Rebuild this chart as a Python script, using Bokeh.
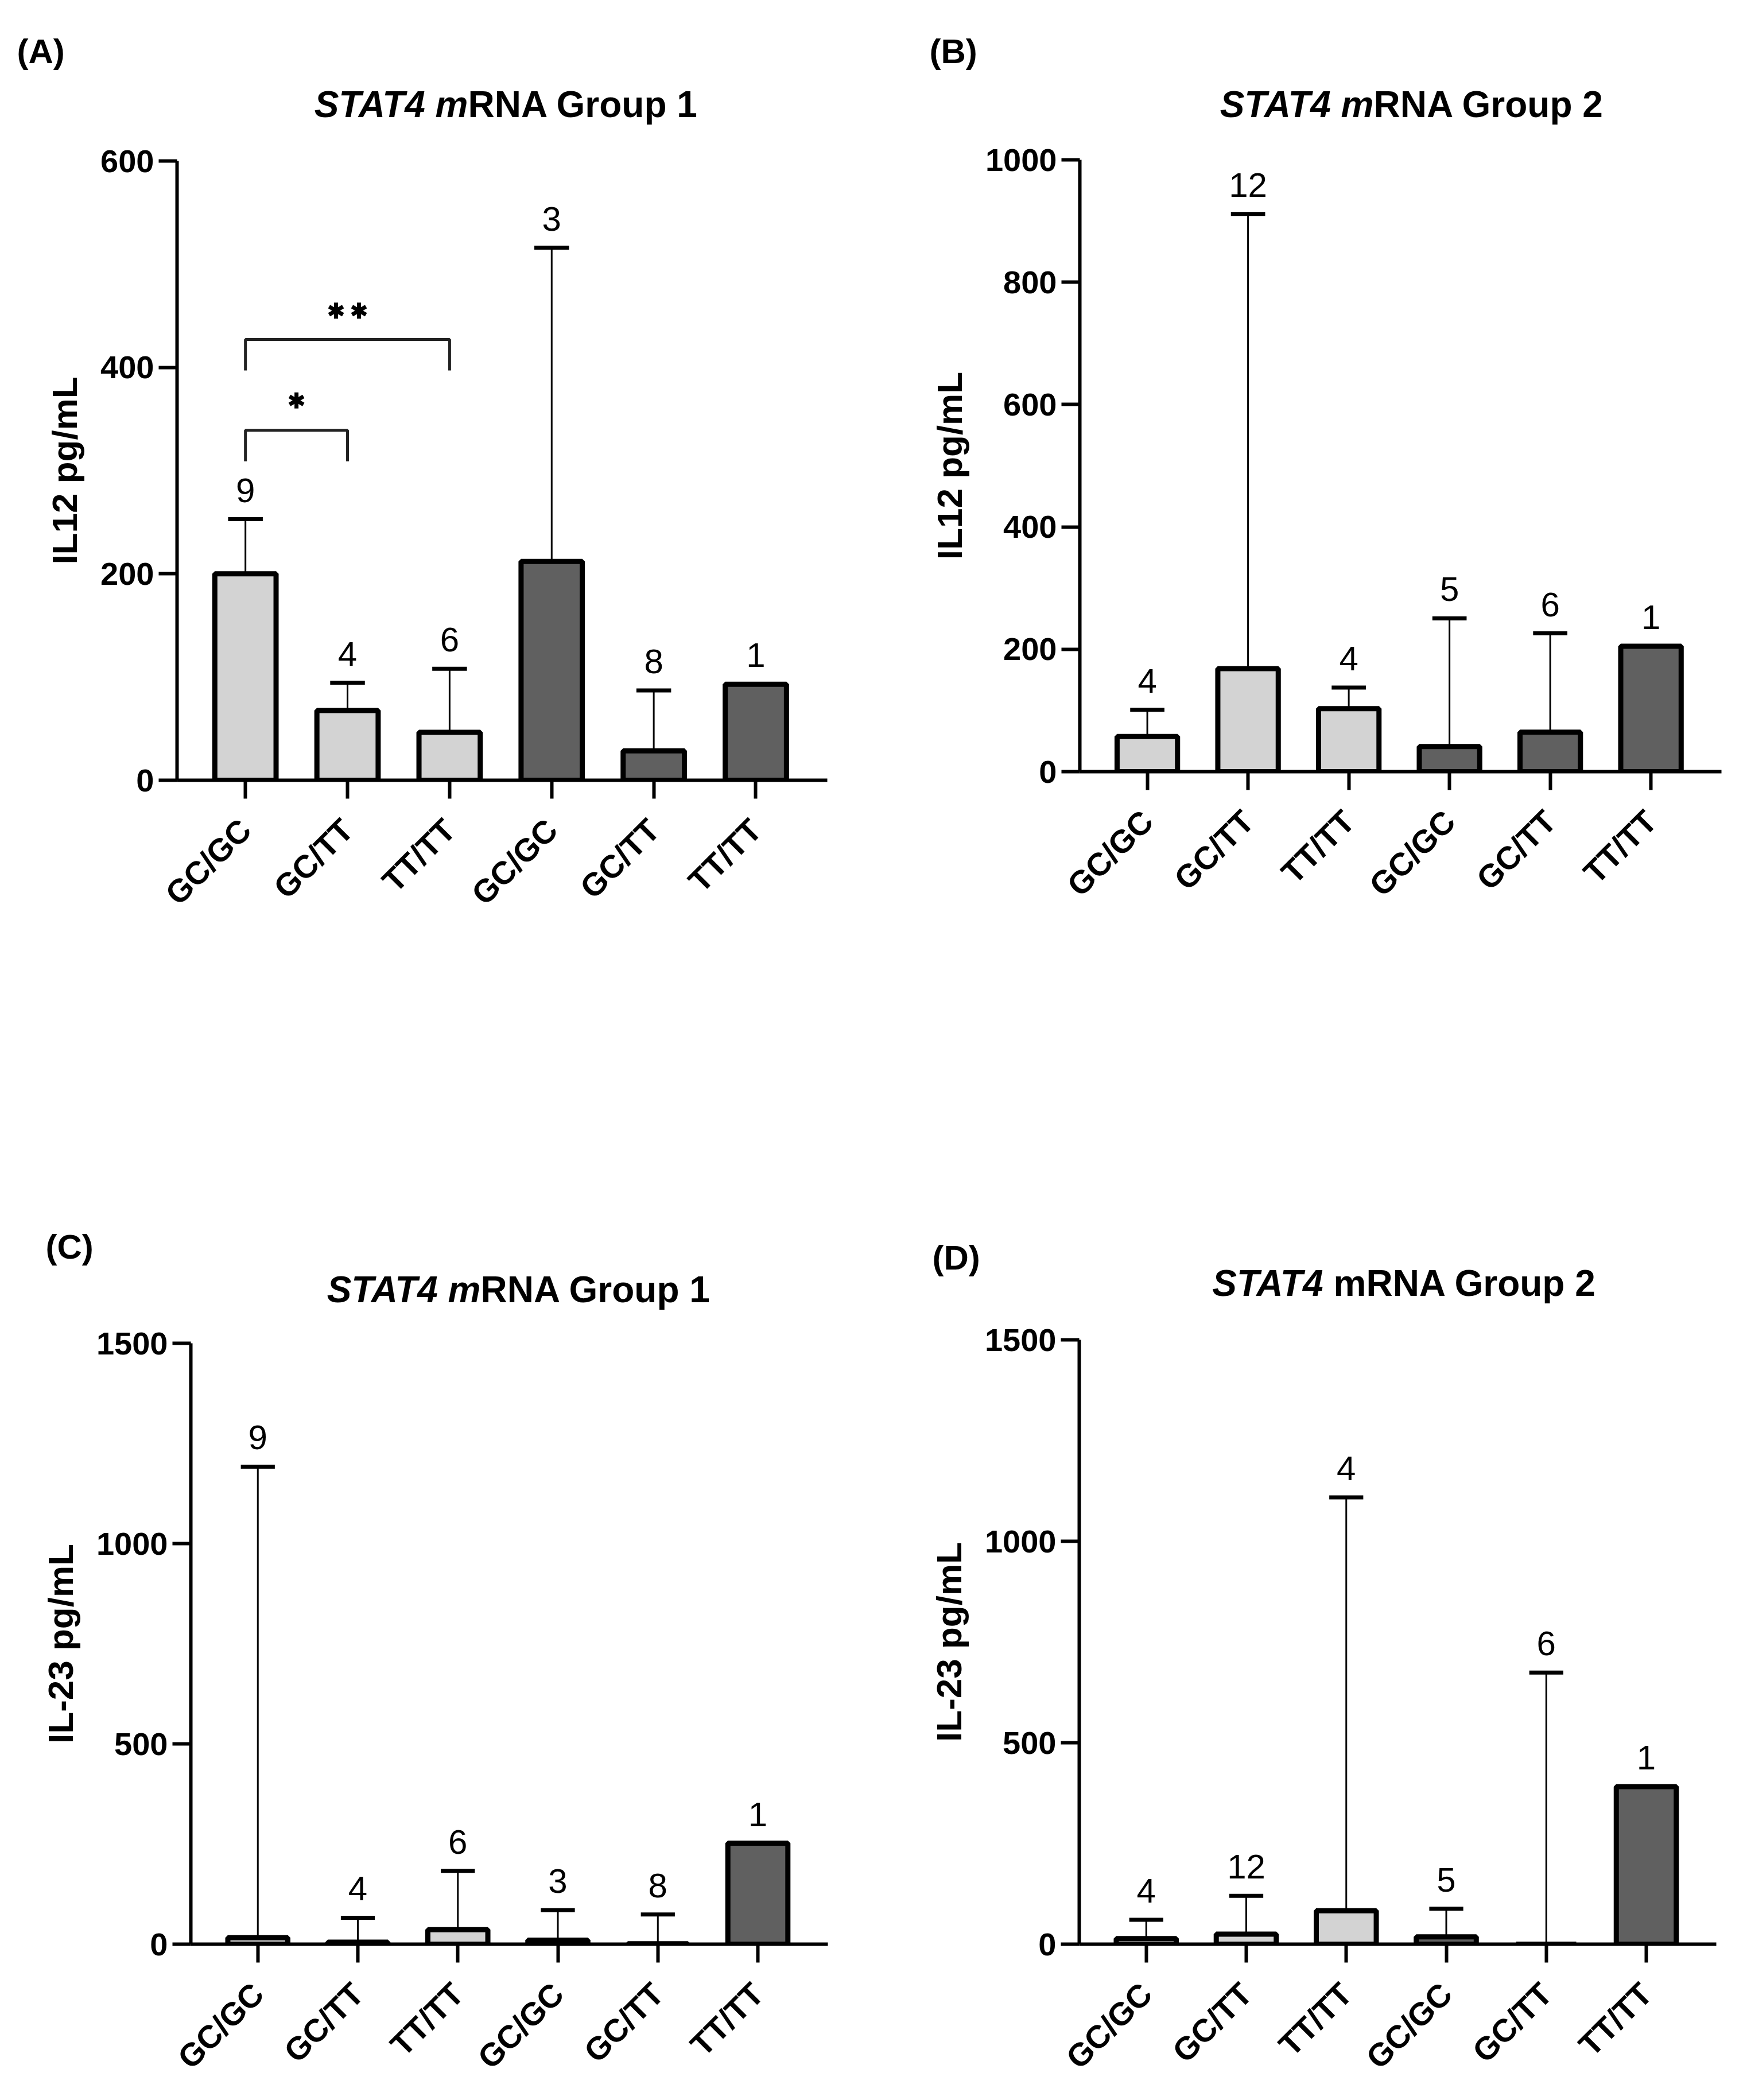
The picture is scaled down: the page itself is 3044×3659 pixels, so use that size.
import math
import numpy as np
from bokeh.plotting import figure
from bokeh.models import Range1d, FixedTicker, ColumnDataSource, LabelSet
from bokeh.core.properties import value
from bokeh.layouts import column, row
from bokeh.embed import file_html
from bokeh.resources import INLINE

# ---------------- data ----------------
categories = ["GC/GC", "GC/TT", "TT/TT", "GC/GC", "GC/TT", "TT/TT"]

a_mean = [200, 67.5, 46.5, 212, 28.5, 93]
a_err = [253, 94.5, 108, 516, 87, float("nan")]
a_n = [9, 4, 6, 3, 8, 1]

b_mean = [57.5, 168.5, 103, 41, 64.5, 205]
b_err = [101, 911.5, 137.5, 250.5, 226, float("nan")]
b_n = [4, 12, 4, 5, 6, 1]

c_mean = [16, 5, 36, 10, 1, 252]
c_err = [1192, 66, 183, 85, 74, float("nan")]
c_n = [9, 4, 6, 3, 8, 1]

d_mean = [14, 25, 83, 18, 0, 391]
d_err = [60.5, 120, 1109, 88, 674, float("nan")]
d_n = [4, 12, 4, 5, 6, 1]

# significance brackets (panel A)
br_left = [0.0, 0.0]
br_right = [1.0, 2.0]
br_y = [339.0, 427.0]
br_drop = [309.0, 397.0]
br_stars = [1, 2]            # "*" and "**"
br_star_y = [368.0, 455.0]   # centre of the asterisks

y_ticks_a = [0, 200, 400, 600]
y_ticks_b = [0, 200, 400, 600, 800, 1000]
y_ticks_cd = [0, 500, 1000, 1500]

# ---------------- style ----------------
FONT = "Liberation Sans"
LIGHT = "#D3D3D3"
DARK = "#606060"
bar_colors = [LIGHT, LIGHT, LIGHT, DARK, DARK, DARK]
X0, X1 = -0.67, 5.7


def txt(p, xs, ys, texts, size, style="normal", align="center"):
    p.text(x=list(xs), y=list(ys), text=list(texts),
           text_font=value(FONT), text_font_style=value(style),
           text_font_size=value(size), text_align=value(align),
           text_baseline=value("alphabetic"), text_color=value("black"))


def header(letter, t_it, t_rest, split_px, gap_px, letter_dx, letter_dy,
           title_dy, fig_w, hh, bl, bt):
    h = figure(width=fig_w, height=hh, x_range=Range1d(0, fig_w),
               y_range=Range1d(0, hh), output_backend="svg",
               toolbar_location=None, x_axis_type=None, y_axis_type=None,
               min_border=0)
    if "frame_align" in h.properties():
        h.frame_align = False
    h.title.visible = False
    h.outline_line_color = None
    h.xgrid.visible = False
    h.ygrid.visible = False
    tx = bl + split_px
    ty = hh - (bt - title_dy)
    txt(h, [tx], [ty], [t_it], "64px", style="bold italic", align="right")
    txt(h, [tx + gap_px], [ty], [t_rest], "64px", style="bold", align="left")
    txt(h, [bl + letter_dx], [hh - (bt - letter_dy)], [letter], "60px",
        style="bold", align="left")
    return h


def panel(letter, t_it, t_rest, split_px, gap_px, letter_dx, letter_dy,
          title_dy, ylabel, ymax, yticks, means, errs, ns,
          fig_w, fig_h, bl, br, bt, bb, brackets=False):
    hh = bt - 40
    h = header(letter, t_it, t_rest, split_px, gap_px, letter_dx, letter_dy,
               title_dy, fig_w, hh, bl, bt)
    p = figure(width=fig_w, height=fig_h - hh, x_range=Range1d(X0, X1),
               y_range=Range1d(0, ymax), output_backend="svg",
               toolbar_location=None, min_border_left=bl, min_border_right=br,
               min_border_top=bt - hh, min_border_bottom=bb)
    p.outline_line_color = None
    p.xgrid.visible = False
    p.ygrid.visible = False

    frame_w = fig_w - bl - br
    frame_h = fig_h - bt - bb
    xpp = (X1 - X0) / frame_w
    ypp = ymax / frame_h

    for ax in (p.xaxis[0], p.yaxis[0]):
        ax.axis_line_width = 6
        ax.axis_line_color = "black"
        ax.major_tick_line_width = 6
        ax.major_tick_line_color = "black"
        ax.major_tick_out = 32
        ax.major_tick_in = 0
        ax.minor_tick_out = 0
        ax.minor_tick_in = 0
        ax.major_label_text_font = FONT
        ax.major_label_text_font_style = "bold"
        ax.major_label_text_font_size = "56px"
        ax.major_label_text_color = "black"

    p.xaxis.ticker = FixedTicker(ticks=list(range(len(categories))))
    p.xaxis.major_label_overrides = {i: c for i, c in enumerate(categories)}
    p.xaxis.major_label_orientation = math.pi / 4
    p.xaxis.major_label_standoff = 45

    p.yaxis.ticker = FixedTicker(ticks=yticks)
    p.yaxis.major_label_standoff = 8
    p.yaxis.axis_label = ylabel
    p.yaxis.axis_label_text_font = FONT
    p.yaxis.axis_label_text_font_style = "bold"
    p.yaxis.axis_label_text_font_size = "62px"
    p.yaxis.axis_label_text_color = "black"
    p.yaxis.axis_label_standoff = 25

    xs = np.arange(len(categories), dtype=float)
    m = np.array(means, dtype=float)
    e = np.array(errs, dtype=float)
    has = ~np.isnan(e)

    # error stems
    p.segment(x0=xs[has], y0=m[has], x1=xs[has], y1=e[has],
              line_color="black", line_width=3)
    # bars
    p.vbar(x=xs, top=m, bottom=0, width=0.6, fill_color=bar_colors,
           line_color="black", line_width=9)
    # caps
    cap = 0.17
    p.segment(x0=xs[has] - cap, y0=e[has], x1=xs[has] + cap, y1=e[has],
              line_color="black", line_width=7)

    anchor = np.where(has, e, m)
    src = ColumnDataSource(dict(x=xs, y=anchor, t=[str(v) for v in ns]))
    p.add_layout(LabelSet(x="x", y="y", text="t", source=src, y_offset=30,
                          text_align="center", text_baseline="alphabetic",
                          text_font=value(FONT), text_font_size="60px",
                          text_color="black"))

    if brackets:
        sx0, sy0, sx1, sy1 = [], [], [], []
        r_px, g_px = 14, 40
        for l, r, y, d, k, cy in zip(br_left, br_right, br_y, br_drop,
                                     br_stars, br_star_y):
            p.line(x=[l, l, r, r], y=[d, y, y, d], line_color="#222222",
                   line_width=5)
            mid = (l + r) / 2
            for i in range(k):
                cx = mid + (i - (k - 1) / 2) * g_px * xpp
                for ang in (90, 30, 150):
                    dx = r_px * math.cos(math.radians(ang)) * xpp
                    dy = r_px * math.sin(math.radians(ang)) * ypp
                    sx0.append(cx - dx); sy0.append(cy - dy)
                    sx1.append(cx + dx); sy1.append(cy + dy)
        p.segment(x0=sx0, y0=sy0, x1=sx1, y1=sy1, line_color="black",
                  line_width=7)

    return column(row(h), p)


pa = panel("(A)", "STAT4 m", "RNA Group 1", 507, 0, -279, 191, 99,
           "IL12 pg/mL", 600, y_ticks_a, a_mean, a_err, a_n,
           1514, 1990, 308, 73, 280, 631, brackets=True)
pb = panel("(B)", "STAT4 m", "RNA Group 2", 512, 0, -262, 189, 97,
           "IL12 pg/mL", 1000, y_ticks_b, b_mean, b_err, b_n,
           1514, 1990, 367, 29, 278, 646)
pc = panel("(C)", "STAT4 m", "RNA Group 1", 505, 0, -253, 168, 94,
           "IL-23 pg/mL", 1500, y_ticks_cd, c_mean, c_err, c_n,
           1514, 1651, 332, 72, 350, 252)
pd_ = panel("(D)", "STAT4", "mRNA Group 2", 425, 18, -256, 143, 99,
            "IL-23 pg/mL", 1500, y_ticks_cd, d_mean, d_err, d_n,
            1514, 1651, 366, 38, 344, 252)

layout = column(row(pa, pb), row(pc, pd_))
open("out.html", "w").write(file_html(layout, INLINE))
